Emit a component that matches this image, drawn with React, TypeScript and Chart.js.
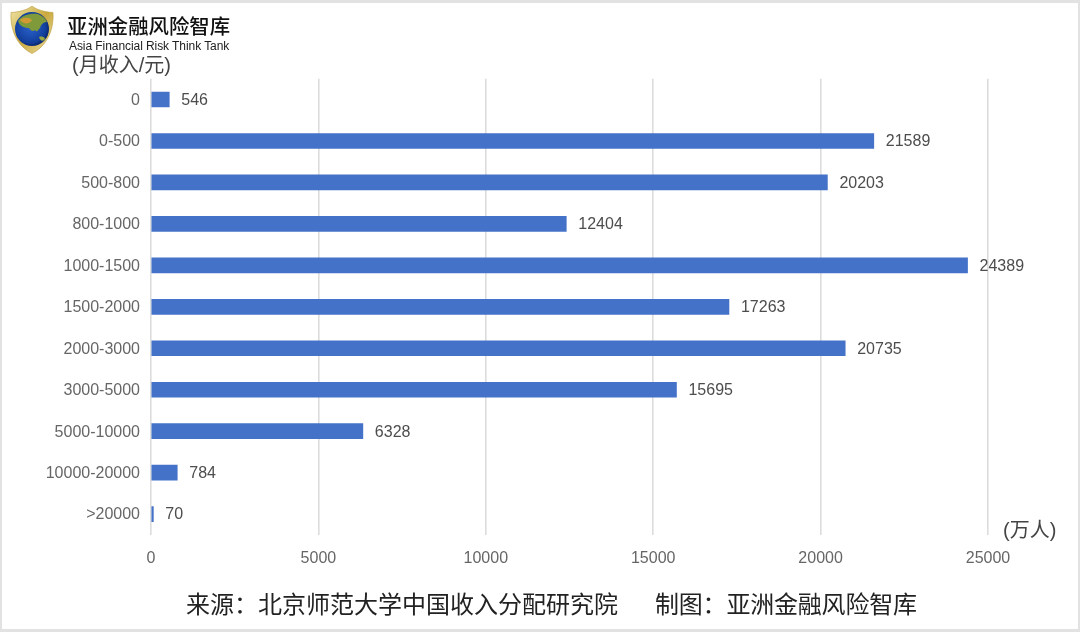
import React, { useEffect, useRef } from "react";
import { Chart, registerables } from "chart.js";

Chart.register(...registerables);

const categories = ["0","0-500","500-800","800-1000","1000-1500","1500-2000","2000-3000","3000-5000","5000-10000","10000-20000",">20000"];
const people = [546,21589,20203,12404,24389,17263,20735,15695,6328,784,70];
const xTicks = [0,5000,10000,15000,20000,25000];
const FONT = '"Liberation Sans", Arial, sans-serif';
const CJK = '"Liberation Sans", "Noto Sans CJK SC", sans-serif';

const valueLabels = {
  id: "valueLabels",
  afterDatasetsDraw(chart: any) {
    const ctx = chart.ctx;
    const meta = chart.getDatasetMeta(0);
    ctx.save();
    ctx.font = `16px ${FONT}`;
    ctx.fillStyle = "#4d4d4d";
    ctx.textBaseline = "middle";
    meta.data.forEach((el: any, i: number) => {
      ctx.fillText(String(people[i]), el.x + 12, el.y + 1);
    });
    ctx.restore();
  },
};

const text = (left: number, top: number, size: number, color: string, extra: React.CSSProperties = {}): React.CSSProperties => ({
  position: "absolute", left, top, fontSize: size, color, fontFamily: CJK, whiteSpace: "nowrap", lineHeight: 1, ...extra,
});

export default function App() {
  const ref = useRef<HTMLCanvasElement>(null);
  useEffect(() => {
    document.body.style.margin = "0";
    const chart = new Chart(ref.current!, {
      type: "bar",
      data: {
        labels: categories,
        datasets: [{ data: people, backgroundColor: "#4472c9", barThickness: 15, borderWidth: 0 }],
      },
      plugins: [valueLabels],
      options: {
        indexAxis: "y",
        responsive: false,
        animation: false,
        layout: { padding: { top: 78.8, right: 92, left: 0, bottom: 0 } },
        plugins: { legend: { display: false }, tooltip: { enabled: false }, title: { display: false } },
        scales: {
          x: {
            type: "linear",
            min: xTicks[0],
            max: xTicks[xTicks.length - 1],
            afterFit: (s: any) => { s.height = 97.2; },
            afterBuildTicks: (s: any) => { s.ticks = xTicks.map((value) => ({ value })); },
            border: { display: false },
            grid: { color: "#dcdcdc", lineWidth: 1.6, drawTicks: false },
            ticks: { color: "#666666", font: { size: 16, family: FONT }, padding: 14, maxRotation: 0, callback: (v: any) => String(v) },
          },
          y: {
            afterFit: (s: any) => { s.width = 151; },
            border: { display: false },
            grid: { display: false, drawTicks: false },
            ticks: { color: "#666666", font: { size: 16, family: FONT }, padding: 11, autoSkip: false, labelOffset: 1 },
          },
        },
      },
    } as any);
    return () => chart.destroy();
  }, []);

  return (
    <div style={{ position: "relative", width: 1080, height: 632, background: "#fff", overflow: "hidden" }}>
      <canvas ref={ref} width={1080} height={632} style={{ position: "absolute", left: 0, top: 0, display: "block" }} />
      <div style={{ position: "absolute", inset: 0, borderTop: "3px solid #e2e2e2", borderLeft: "2px solid #e2e2e2", borderRight: "2px solid #e2e2e2", borderBottom: "3px solid #e2e2e2", boxSizing: "border-box", pointerEvents: "none" }} />
      <svg width="44" height="48" viewBox="0 0 44 48" style={{ position: "absolute", left: 10, top: 6 }}>
        <defs>
          <linearGradient id="gold" x1="0" y1="0" x2="1" y2="1">
            <stop offset="0" stopColor="#f0e6a8" />
            <stop offset="0.5" stopColor="#c9a93f" />
            <stop offset="1" stopColor="#efe3a8" />
          </linearGradient>
          <radialGradient id="sea" cx="0.45" cy="0.45" r="0.65">
            <stop offset="0" stopColor="#2a62cc" />
            <stop offset="0.7" stopColor="#123f9c" />
            <stop offset="1" stopColor="#04123f" />
          </radialGradient>
        </defs>
        <path d="M22 0 C27 4 35 6 43 6.5 C44 24 37 40 22 47.5 C7 40 0 24 1 6.5 C9 6 17 4 22 0 Z" fill="url(#gold)" stroke="#b99a3a" strokeWidth="0.6" />
        <circle cx="22" cy="23" r="17" fill="url(#sea)" />
        <path d="M8 15 C12 9 20 7 28 8 C33 10 36 13 37 16 C33 16 31 19 30 22 C28 24 27 27 25 24 C23 26 21 25 19 22 C15 22 10 21 8 15 Z" fill="#7f9a3a" />
        <path d="M10 14 C14 11 19 11 22 14 C20 18 14 19 10 14 Z" fill="#d29a34" />
        <path d="M29 31 C32 30 35 31 35 33 C33 36 30 35 29 31 Z" fill="#9aa544" />
      </svg>
      <div style={text(67, 17, 20.4, "#111", { fontWeight: 500 })}>亚洲金融风险智库</div>
      <div style={text(69, 40, 12, "#222", { letterSpacing: -0.07 })}>Asia Financial Risk Think Tank</div>
      <div style={text(72, 55, 20, "#444")}>(月收入/元)</div>
      <div style={text(1003, 520, 20, "#444")}>(万人)</div>
      <div style={text(186, 593, 24, "#222")}>来源：北京师范大学中国收入分配研究院</div>
      <div style={text(655, 593, 24, "#222", { letterSpacing: -0.2 })}>制图：亚洲金融风险智库</div>
    </div>
  );
}
